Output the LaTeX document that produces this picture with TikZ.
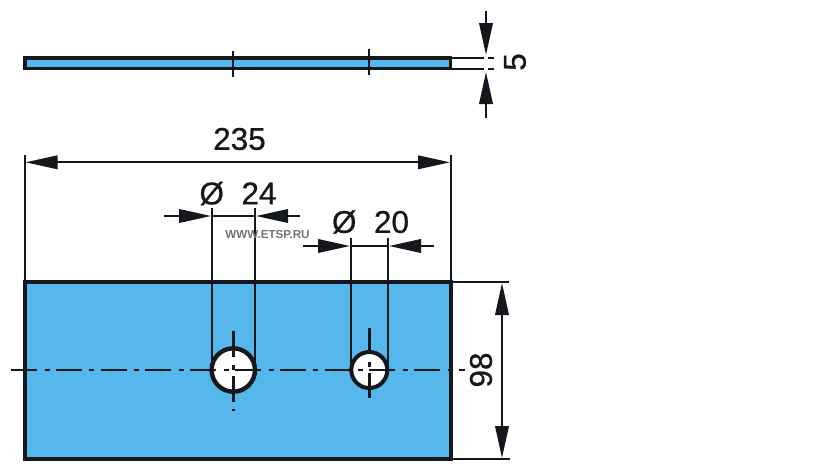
\documentclass[tikz,border=0pt]{standalone}
\usepackage{fontspec}
\setmainfont{Liberation Sans}
\newfontfamily\dimfont[FakeBold=0.6]{Liberation Sans}
\usepackage{tikz}
\usetikzlibrary{arrows.meta}
\definecolor{plateblue}{HTML}{55B7EC}
\definecolor{inkblack}{HTML}{14181C}
\tikzset{
  outline/.style={line width=3.2pt,draw=inkblack,line join=miter},
  dimline/.style={line width=2pt,draw=inkblack},
  dimtip/.style={-{Triangle[length=32pt,width=13.5pt,inkblack]}},
  extline/.style={line width=2pt,draw=inkblack},
  holeline/.style={line width=2.4pt,draw=inkblack},
  centreline/.style={line width=2.4pt,draw=inkblack,dash pattern=on 26pt off 7.5pt on 5pt off 6.3pt},
  dimtext/.style={text=inkblack,inner sep=0pt,font=\dimfont\fontsize{31.5}{34}\selectfont},
  watermark/.style={text=black!55,inner sep=0pt,font=\fontsize{11.6}{13}\selectfont\bfseries}
}
\begin{document}
\begin{tikzpicture}[x=1pt,y=-1pt]
\useasboundingbox (0,0) rectangle (819,472);
\fill[white] (0,0) rectangle (819,472);
% side view
\draw[outline,fill=plateblue] (25,58) rectangle (450.5,68.5);
\draw[extline] (233.3,51) -- (233.3,76.5);
\draw[extline] (369.3,49) -- (369.3,75);
% thickness
\draw[extline] (451,57.5) -- (484,57.5) (488,57.5) -- (494,57.5);
\draw[extline] (451,69) -- (484,69) (488,69) -- (494,69);
\draw[dimline,dimtip] (486,10.5) -- (486,55);
\draw[dimline,dimtip] (486,118) -- (486,72);
\node[dimtext,rotate=90] (thick) at (515,62) {5};
% front view
\draw[outline,fill=plateblue] (25,282) rectangle (451,459);
\coordinate (holeA) at (233.3,370);
\coordinate (holeB) at (369.3,370);
% holes
\draw[holeline] (212,208) -- (212,370);
\draw[holeline] (255,208) -- (255,370);
\draw[holeline] (351,238) -- (351,370);
\draw[holeline] (388,238) -- (388,370);
\draw[line width=4.4pt,draw=inkblack,fill=white] (holeA) circle (21.7);
\draw[line width=4pt,draw=inkblack,fill=white] (holeB) circle (18);
\draw[centreline] (11,370) -- (465,370);
\draw[centreline] (233.3,331) -- (233.3,411);
\draw[centreline] (369.3,328) -- (369.3,398);
% length
\draw[extline] (24.5,155) -- (24.5,282);
\draw[extline] (451,155) -- (451,282);
\draw[dimline,dimtip] (240,162.3) -- (25.5,162.3);
\draw[dimline,dimtip] (240,162.3) -- (450,162.3);
\node[dimtext] (len) at (239.5,139) {235};
% big hole
\draw[dimline] (212,216) -- (255,216);
\draw[dimline,dimtip] (164,216) -- (211,216);
\draw[dimline,dimtip] (300,216) -- (256,216);
\node[dimtext] (diaA) at (238,193.5) {Ø\ \ 24};
% small hole
\draw[dimline] (351,246) -- (388,246);
\draw[dimline,dimtip] (303,246) -- (350,246);
\draw[dimline,dimtip] (434,246) -- (389,246);
\node[dimtext] (diaB) at (370.5,222) {Ø\ \ 20};
% height
\draw[extline] (451,281.7) -- (509,281.7);
\draw[extline] (451,459) -- (510,459);
\draw[dimline,dimtip] (502,370) -- (502,283);
\draw[dimline,dimtip] (502,370) -- (502,458);
\node[dimtext,rotate=90] (high) at (481,370) {98};
\node[watermark] (mark) at (267.5,235) {WWW.ETSP.RU};
\end{tikzpicture}
\end{document}
